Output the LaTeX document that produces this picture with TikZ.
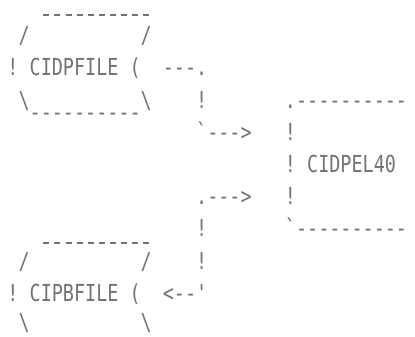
\documentclass[tikz,border=0pt]{standalone}
\usepackage{graphicx}
\usepackage{fontspec}
\setmonofont{DejaVu Sans Mono}
\newcommand{\artfont}{\ttfamily\fontsize{18.44pt}{22pt}\selectfont}
\tikzset{
  art/.style={anchor=base west, inner sep=0pt, outer sep=0pt, text=black!55, font=\artfont},
  edgeline/.style={draw=black!55, line width=1.5pt, dash pattern=on 6pt off 5.1pt},
}
% name, column, row, extra downward shift, text
\newcommand{\putartd}[5]{%
  \node[art] (#1) at ({7.45+11.1*#2}, {337-(3+32.2*#3)-8.5-#4}) {\scalebox{1}[1.27]{#5}};}
\newcommand{\putart}[4]{\putartd{#1}{#2}{#3}{0}{#4}}
\newcommand{\bs}{\textbackslash}
\newcommand{\gr}{\symbol{"60}}
\newcommand{\ap}{\symbol{"27}}
\begin{document}
\begin{tikzpicture}[x=1pt,y=1pt]
\path[use as bounding box, fill=white] (0,0) rectangle (415,337);
% top file CIDPFILE
\coordinate (ptopL) at (43.3, {337-15});
\coordinate (ptopR) at (149.2, {337-15});
\draw[edgeline] (ptopL) -- (ptopR);
\putart{pul}{1}{1}{/}
\putart{pur}{12}{1}{/}
\putart{pl}{0}{2}{!}
\putart{cidpfile}{2}{2}{CIDPFILE}
\putart{pr}{11}{2}{(}
\putart{pll}{1}{3}{\bs}
\putartd{pbot}{2}{3}{12.5}{----------}
\putart{plr}{12}{3}{\bs}
% connector from CIDPFILE to CIDPEL40
\putart{c1a}{14}{2}{---.}
\putart{c1b}{17}{3}{!}
\putart{c1c}{17}{4}{\gr--->}
% process box CIDPEL40
\putart{btop}{25}{3}{.----------}
\putart{bl1}{25}{4}{!}
\putart{bl2}{25}{5}{!}
\putart{bl3}{25}{6}{!}
\putart{cidpel}{27}{5}{CIDPEL40}
\putart{bbot}{25}{7}{\gr----------}
% connector between CIDPEL40 and CIPBFILE
\putart{c2a}{17}{6}{.--->}
\putart{c2b}{17}{7}{!}
\putart{c2c}{17}{8}{!}
\putart{c2d}{14}{9}{<--\ap}
% bottom file CIPBFILE
\coordinate (qtopL) at (43.3, {337-243});
\coordinate (qtopR) at (149.2, {337-243});
\draw[edgeline] (qtopL) -- (qtopR);
\putart{qul}{1}{8}{/}
\putart{qur}{12}{8}{/}
\putart{ql}{0}{9}{!}
\putart{cipbfile}{2}{9}{CIPBFILE}
\putart{qr}{11}{9}{(}
\putartd{qll}{1}{10}{-3}{\bs}
\putartd{qlr}{12}{10}{-3}{\bs}
\end{tikzpicture}
\end{document}
